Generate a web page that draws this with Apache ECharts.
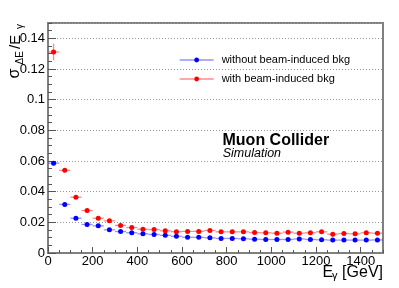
<!DOCTYPE html>
<html>
<head>
<meta charset="utf-8">
<script src="https://cdn.jsdelivr.net/npm/echarts@6/dist/echarts.min.js"></script>
<style>html,body{margin:0;padding:0;background:#fff;}#c{width:399px;height:288px;}</style>
</head>
<body>
<div id="c"></div>
<script>
var energies = [25,75,125,175,225,275,325,375,425,475,525,575,625,675,725,775,825,875,925,975,1025,1075,1125,1175,1225,1275,1325,1375,1425,1475];
var binHalfWidth = [25,25,25,25,25,25,25,25,25,25,25,25,25,25,25,25,25,25,25,25,25,25,25,25,25,25,25,25,25,25];
var noBkg = [0.0586,0.0317,0.0227,0.0186,0.0177,0.0151,0.0140,0.0132,0.0125,0.0121,0.0115,0.0109,0.0103,0.0102,0.0099,0.0095,0.0095,0.0093,0.0090,0.0088,0.0088,0.0088,0.0092,0.0088,0.0086,0.0084,0.0084,0.0084,0.0084,0.0085];
var noBkgErr = [0.0008,0.0005,0.0004,0.0004,0.0004,0.0003,0.0003,0.0003,0.0003,0.0003,0.0003,0.0003,0.0003,0.0003,0.0003,0.0003,0.0003,0.0003,0.0003,0.0003,0.0003,0.0003,0.0003,0.0003,0.0003,0.0003,0.0003,0.0003,0.0003,0.0003];
var withBkg = [0.1311,0.0539,0.0364,0.0277,0.0227,0.0210,0.0180,0.0166,0.0155,0.0153,0.0145,0.0139,0.0141,0.0141,0.0147,0.0138,0.0138,0.0138,0.0133,0.0132,0.0129,0.0136,0.0129,0.0132,0.0138,0.0123,0.0127,0.0125,0.0132,0.0129];
var withBkgErr = [0.0054,0.0010,0.0006,0.0005,0.0004,0.0004,0.0004,0.0003,0.0003,0.0003,0.0003,0.0003,0.0003,0.0003,0.0003,0.0003,0.0003,0.0003,0.0003,0.0003,0.0003,0.0003,0.0003,0.0003,0.0003,0.0003,0.0003,0.0003,0.0003,0.0003];
var seriesNames = ['without beam-induced bkg','with beam-induced bkg'];
var xTicks = {min:0, max:1500, major:200, minor:50};
var yTicks = {min:0, max:0.15, major:0.02, minor:0.005};

var FONT = '"Liberation Sans", Arial, Helvetica, sans-serif';
var BLUE = '#0000ff', RED = '#ff0000';
var BLUE_L = 'rgba(60,60,255,0.55)', RED_L = 'rgba(255,60,60,0.6)';

function pts(vals){ return energies.map(function(e,i){ return [e, vals[i]]; }); }
function errs(vals, ye){ return energies.map(function(e,i){ return [e, vals[i], binHalfWidth[i], ye[i]]; }); }

function errRender(color){
  return function(params, api){
    var x = api.value(0), y = api.value(1), dx = api.value(2), dy = api.value(3);
    var l = api.coord([x-dx, y]), r = api.coord([x+dx, y]);
    var t = api.coord([x, y+dy]), b = api.coord([x, y-dy]);
    var st = {stroke: color, lineWidth: 1.3};
    return {type:'group', children:[
      {type:'line', shape:{x1:l[0],y1:l[1],x2:r[0],y2:r[1]}, style:st},
      {type:'line', shape:{x1:t[0],y1:t[1],x2:b[0],y2:b[1]}, style:st}
    ]};
  };
}
function plainNum(v){ return String(+v.toFixed(6)); }

var chart = echarts.init(document.getElementById('c'), null, {renderer:'canvas'});
var labelStyle = {fontSize:13, color:'#000', fontFamily:FONT, formatter:plainNum};
chart.setOption({
  animation:false,
  backgroundColor:'#fff',
  grid:{left:48, right:16, top:23, bottom:35, show:true, borderColor:'#808080', borderWidth:2, backgroundColor:'transparent'},
  legend:{orient:'vertical', left:179, top:54.5, padding:0, itemWidth:34, itemHeight:6, itemGap:8,
    textStyle:{fontSize:11, color:'#000', fontFamily:FONT, padding:[0,0,0,3]},
    data:[
      {name:seriesNames[0], lineStyle:{color:BLUE_L, width:1.3, opacity:1}},
      {name:seriesNames[1], lineStyle:{color:RED_L, width:1.3, opacity:1}}
    ]},
  xAxis:[
    {type:'value', min:xTicks.min, max:xTicks.max, interval:xTicks.major,
      axisLine:{show:true, onZero:false, lineStyle:{color:'#808080', width:2}},
      axisTick:{show:true, inside:true, length:6, lineStyle:{color:'#555'}},
      axisLabel:{margin:2, showMaxLabel:false, ...labelStyle},
      splitLine:{show:false}},
    {type:'value', min:xTicks.min, max:xTicks.max, interval:xTicks.minor, position:'bottom',
      axisLine:{show:false}, axisTick:{show:true, inside:true, length:3, lineStyle:{color:'#555'}},
      axisLabel:{show:false}, splitLine:{show:false}}
  ],
  yAxis:[
    {type:'value', min:yTicks.min, max:yTicks.max, interval:yTicks.major,
      axisLine:{show:true, onZero:false, lineStyle:{color:'#808080', width:2}},
      axisTick:{show:true, inside:true, length:8, lineStyle:{color:'#555'}},
      axisLabel:{margin:3, showMaxLabel:false, ...labelStyle},
      splitLine:{show:true, lineStyle:{color:'#999', type:[1,2], width:1}}},
    {type:'value', min:yTicks.min, max:yTicks.max, interval:yTicks.minor, position:'left',
      axisLine:{show:false}, axisTick:{show:true, inside:true, length:4, lineStyle:{color:'#555'}},
      axisLabel:{show:false}, splitLine:{show:false}}
  ],
  series:[
    {name:seriesNames[0], type:'line', data:pts(noBkg), symbol:'circle', symbolSize:5, z:3,
      itemStyle:{color:BLUE}, lineStyle:{color:BLUE_L, width:1.3, opacity:0}},
    {name:seriesNames[1], type:'line', data:pts(withBkg), symbol:'circle', symbolSize:5, z:3,
      itemStyle:{color:RED}, lineStyle:{color:RED_L, width:1.3, opacity:0}},
    {name:seriesNames[0], type:'custom', data:errs(noBkg, noBkgErr), renderItem:errRender(BLUE_L), z:2,
      encode:{x:0, y:1}},
    {name:seriesNames[1], type:'custom', data:errs(withBkg, withBkgErr), renderItem:errRender(RED_L), z:2,
      encode:{x:0, y:1}}
  ],
  graphic:[
    {type:'text', left:222.5, top:133, style:{text:'Muon Collider', font:'bold 16px '+FONT, fill:'#000'}},
    {type:'text', left:222.7, top:147.5, style:{text:'Simulation', font:'italic 12.5px '+FONT, fill:'#000'}},
    {type:'text', x:322.5, y:272.6, style:{text:'E', font:'16px '+FONT, fill:'#000', verticalAlign:'middle', align:'left'}},
    {type:'text', x:332, y:276, style:{text:'γ', font:'11px '+FONT, fill:'#000', verticalAlign:'middle', align:'left'}},
    {type:'text', x:383, y:272.6, style:{text:'[GeV]', font:'16px '+FONT, fill:'#000', verticalAlign:'middle', align:'right'}},
    {type:'text', x:15, y:78.5, rotation:Math.PI/2, style:{text:'σ', font:'16px '+FONT, fill:'#000', verticalAlign:'middle', align:'left'}},
    {type:'text', x:19.8, y:64.5, rotation:Math.PI/2, style:{text:'ΔE', font:'10px '+FONT, fill:'#000', verticalAlign:'middle', align:'left'}},
    {type:'text', x:16, y:49, rotation:Math.PI/2, style:{text:'/E', font:'15px '+FONT, fill:'#000', verticalAlign:'middle', align:'left'}},
    {type:'text', x:20, y:29, rotation:Math.PI/2, style:{text:'γ', font:'10px '+FONT, fill:'#000', verticalAlign:'middle', align:'left'}}
  ]
});
</script>
</body>
</html>
